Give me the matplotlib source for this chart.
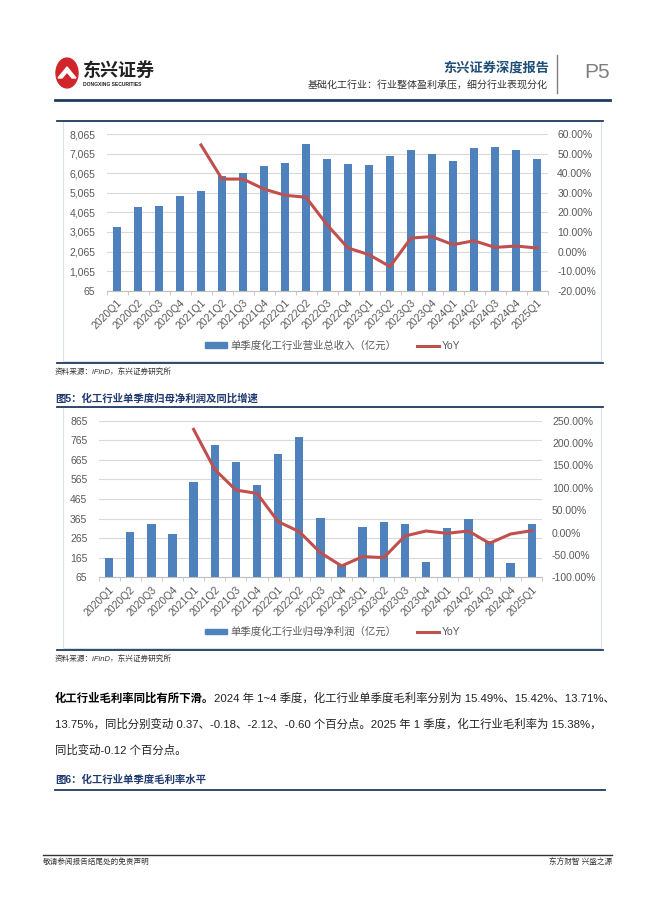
import matplotlib
matplotlib.use('Agg')
import matplotlib.pyplot as plt
import numpy as np
from matplotlib.patches import Circle, Rectangle, Polygon
from matplotlib.lines import Line2D

plt.rcParams['font.family'] = ['Liberation Sans', 'Noto Sans CJK SC', 'DejaVu Sans']

# ---- data ----
quarters = ['2020Q1', '2020Q2', '2020Q3', '2020Q4', '2021Q1', '2021Q2', '2021Q3',
            '2021Q4', '2022Q1', '2022Q2', '2022Q3', '2022Q4', '2023Q1', '2023Q2',
            '2023Q3', '2023Q4', '2024Q1', '2024Q2', '2024Q3', '2024Q4', '2025Q1']

# 单季度化工行业营业总收入（亿元）
revenue = [3335, 4337, 4405, 4882, 5137, 5937, 6056, 6448, 6601, 7571, 6788,
           6550, 6465, 6958, 7265, 7043, 6686, 7350, 7401, 7231, 6771]
revenue_yoy = [np.nan, np.nan, np.nan, np.nan, 54.4, 37.0, 37.0, 31.9, 28.7, 27.7,
               13.7, 1.8, -1.6, -7.7, 6.9, 7.6, 3.5, 5.5, 2.1, 2.8, 1.8]

# 单季度化工行业归母净利润（亿元）
profit = [164, 298, 337, 286, 550, 739, 656, 535, 696, 780, 366,
          128, 322, 348, 339, 142, 319, 365, 249, 138, 337]
profit_yoy = [np.nan, np.nan, np.nan, np.nan, 230.6, 141.0, 95.0, 87.6, 24.4, 2.0,
              -45.0, -74.6, -53.8, -56.0, -7.7, 3.5, -1.7, 3.5, -24.0, -3.2, 4.2]

revenue_ticks = [65, 1065, 2065, 3065, 4065, 5065, 6065, 7065, 8065]
revenue_yoy_ticks = [-20, -10, 0, 10, 20, 30, 40, 50, 60]
profit_ticks = [65, 165, 265, 365, 465, 565, 665, 765, 865]
profit_yoy_ticks = [-100, -50, 0, 50, 100, 150, 200, 250]

W, H = 662, 898
BLUE = '#4F81BD'
RED = '#C0504D'
GRID = '#D9D9D9'
LABEL = '#595959'
NAVY = '#1F3A5F'

fig = plt.figure(figsize=(W / 100, H / 100), dpi=100)


def fx(x):
    return x / W


def fy(y):
    return 1 - y / H


def box(l, t, r, b):
    return [l / W, 1 - b / H, (r - l) / W, (b - t) / H]


def hline(x0, x1, y, color, lw):
    fig.add_artist(Line2D([fx(x0), fx(x1)], [fy(y), fy(y)], color=color, lw=lw,
                          transform=fig.transFigure))


def draw_combo(rect, bars, yoy, left_ticks, right_ticks, bar_label, legend_y):
    ax = fig.add_axes(rect)
    x = np.arange(len(quarters))
    ax.bar(x, bars, width=0.4, color=BLUE, zorder=2)
    ax.set_xlim(-0.5, len(quarters) - 0.5)
    ax.set_ylim(left_ticks[0], left_ticks[-1])
    ax.set_yticks(left_ticks)
    ax.yaxis.set_major_formatter(lambda v, p: f'{v:,.0f}')
    ax.grid(axis='y', color=GRID, lw=0.8, zorder=0)
    ax.set_axisbelow(True)
    ax.set_xticks(x)
    ax.set_xticklabels(quarters, rotation=45, ha='right', rotation_mode='anchor')
    ax.set_xticks(np.arange(-0.5, len(quarters), 1), minor=True)
    ax.tick_params(axis='x', which='major', length=0, labelsize=7.5, labelcolor=LABEL, pad=5)
    ax.tick_params(axis='x', which='minor', length=3, color='#BFBFBF')
    ax.tick_params(axis='y', length=0, labelsize=7.5, labelcolor=LABEL, pad=8)
    for s in ['top', 'left', 'right']:
        ax.spines[s].set_visible(False)
    ax.spines['bottom'].set_color('#BFBFBF')

    # YoY on the right axis
    ax2 = ax.twinx()
    ax2.plot(x, yoy, color=RED, lw=2.2)
    ax2.set_ylim(right_ticks[0], right_ticks[-1])
    ax2.set_yticks(right_ticks)
    ax2.yaxis.set_major_formatter(lambda v, p: f'{v:.2f}%')
    ax2.tick_params(axis='y', length=0, labelsize=7.5, labelcolor=LABEL, pad=7)
    for s in ax2.spines.values():
        s.set_visible(False)

    handles = [Rectangle((0, 0), 1, 1, color=BLUE), Line2D([], [], color=RED, lw=2.2)]
    fig.legend(handles, [bar_label, 'YoY'], loc='center',
               bbox_to_anchor=(fx(333), fy(legend_y)), ncol=2, frameon=False,
               fontsize=7.5, handlelength=2.1, handleheight=0.5, handletextpad=0.3,
               columnspacing=2.0, labelcolor=LABEL)


def chart_frame(top, bottom):
    fig.add_artist(Rectangle((fx(63), fy(bottom - 2)), (601 - 63) / W, (bottom - 2 - top) / H,
                             fill=False, edgecolor='#D6E1EC', lw=0.8,
                             transform=fig.transFigure))
    hline(57, 603, top, NAVY, 1.3)
    hline(57, 603, bottom, NAVY, 1.3)


# ---- header ----
fig.add_artist(Circle((fx(67), fy(73)), 11 / W, color='#D0262B', transform=fig.transFigure))
fig.add_artist(Polygon([[fx(58), fy(78)], [fx(67), fy(67)], [fx(76), fy(78)], [fx(72), fy(78)],
                        [fx(67), fy(72)], [fx(62), fy(78)]], closed=True, color='white',
                       transform=fig.transFigure))
fig.text(fx(83), fy(70), '东兴证券', fontsize=13, fontweight='bold', color='#222222',
         va='center', ha='left', family=['Noto Sans CJK SC'])
fig.text(fx(83), fy(84), 'DONGXING SECURITIES', fontsize=3.6, fontweight='bold',
         color='#222222', va='center', ha='left')
fig.text(fx(549), fy(68), '东兴证券深度报告', fontsize=9.5, fontweight='bold', color='#1F4E79',
         va='center', ha='right')
fig.text(fx(548), fy(85), '基础化工行业：行业整体盈利承压，细分行业表现分化', fontsize=7.2,
         color='#333333', va='center', ha='right')
fig.add_artist(Line2D([fx(557), fx(557)], [fy(55), fy(93)], color='#7F7F7F', lw=1,
                      transform=fig.transFigure))
fig.text(fx(584), fy(73), 'P5', fontsize=15, color='#7F7F7F', va='center', ha='left')
hline(55, 610, 100, NAVY, 2)

# ---- chart 1 ----
chart_frame(121, 363)
draw_combo(box(106.5, 134, 547.5, 290.7), revenue, revenue_yoy, revenue_ticks,
           revenue_yoy_ticks, '单季度化工行业营业总收入（亿元）', 346)
fig.text(fx(55), fy(372), '资料来源：iFinD，东兴证券研究所', fontsize=5.5, style='italic',
         color='#333333', va='center')

# ---- chart 2 ----
fig.text(fx(55), fy(398), '图5：化工行业单季度归母净利润及同比增速', fontsize=7.5,
         fontweight='bold', color='#1F3A6F', va='center')
chart_frame(407, 650)
draw_combo(box(98.5, 420.7, 542.3, 577.3), profit, profit_yoy, profit_ticks,
           profit_yoy_ticks, '单季度化工行业归母净利润（亿元）', 632)
fig.text(fx(55), fy(659), '资料来源：iFinD，东兴证券研究所', fontsize=5.5, style='italic',
         color='#333333', va='center')

# ---- body text ----
bold = fig.text(fx(55), fy(698), '化工行业毛利率同比有所下滑。', fontsize=8.2,
                fontweight='bold', color='black', va='center')
fig.add_artist(plt.Annotation('2024 年 1~4 季度，化工行业单季度毛利率分别为 15.49%、15.42%、13.71%、',
                              xy=(1, 0.5), xycoords=bold, va='center', ha='left',
                              fontsize=8.2, color='#222222'))
fig.text(fx(55), fy(724), '13.75%，同比分别变动 0.37、-0.18、-2.12、-0.60 个百分点。2025 年 1 季度，化工行业毛利率为 15.38%，',
         fontsize=8.2, color='#222222', va='center')
fig.text(fx(55), fy(750), '同比变动-0.12 个百分点。', fontsize=8.2, color='#222222', va='center')

fig.text(fx(55), fy(780), '图6：化工行业单季度毛利率水平', fontsize=7.5, fontweight='bold',
         color='#1F3A6F', va='center')
hline(55, 605, 790, NAVY, 1.3)

# ---- footer ----
hline(43, 612, 855, '#333333', 1)
fig.text(fx(43), fy(862), '敬请参阅报告结尾处的免责声明', fontsize=5.5, color='#333333', va='center')
fig.text(fx(612), fy(862), '东方财智 兴盛之源', fontsize=5.5, color='#333333', va='center',
         ha='right')

fig.savefig('out.png', dpi=100)
